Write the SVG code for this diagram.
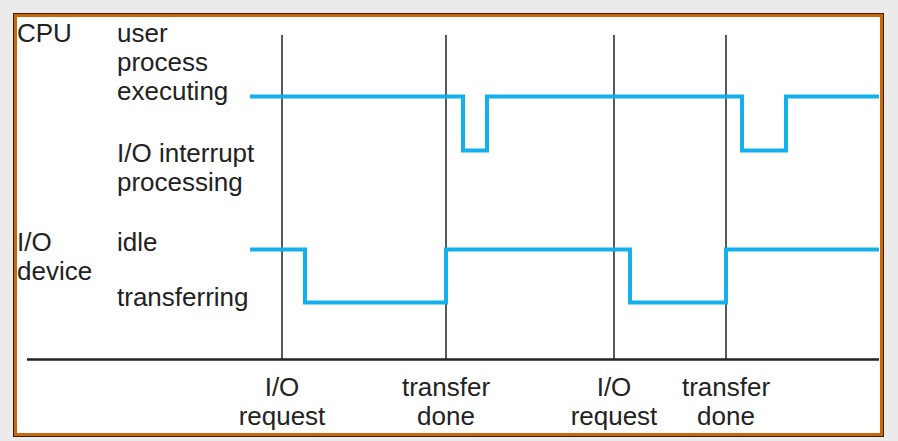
<svg xmlns="http://www.w3.org/2000/svg" width="898" height="441" viewBox="0 0 898 441">
<style>
text{font-family:"Liberation Sans",Arial,sans-serif;font-size:26px;fill:#222}
.mid{text-anchor:middle}
.tick{stroke:#222;stroke-width:1.5;fill:none}
.sig{stroke:#12b0ec;stroke-width:4;fill:none;stroke-linejoin:miter}
</style>
<rect x="0" y="0" width="898" height="441" fill="#ebebeb"/>
<g id="frame">
<rect x="13.5" y="13.5" width="870" height="423" fill="#fff" stroke="#3a1e00" stroke-width="1"/>
<rect x="15.5" y="15.5" width="866" height="419" fill="none" stroke="#c8680c" stroke-width="3"/>
</g>
<g id="labels">
<text x="17" y="42">CPU</text>
<text x="117" y="42">user</text>
<text x="117" y="71">process</text>
<text x="117" y="100">executing</text>
<text x="117" y="162">I/O interrupt</text>
<text x="117" y="191">processing</text>
<text x="17" y="251">I/O</text>
<text x="17" y="280">device</text>
<text x="117" y="251">idle</text>
<text x="117" y="306">transferring</text>
</g>
<g id="axis-labels">
<text class="mid" x="282" y="396">I/O</text>
<text class="mid" x="282" y="425">request</text>
<text class="mid" x="446" y="396">transfer</text>
<text class="mid" x="446" y="425">done</text>
<text class="mid" x="614" y="396">I/O</text>
<text class="mid" x="614" y="425">request</text>
<text class="mid" x="726" y="396">transfer</text>
<text class="mid" x="726" y="425">done</text>
</g>
<g id="connectors">
<line class="tick" x1="282" y1="35" x2="282" y2="359"/>
<line class="tick" x1="446" y1="35" x2="446" y2="359"/>
<line class="tick" x1="614" y1="35" x2="614" y2="359"/>
<line class="tick" x1="726" y1="35" x2="726" y2="359"/>
<line x1="27" y1="359.5" x2="879" y2="359.5" stroke="#222" stroke-width="2.5"/>
<path id="cpu-signal" class="sig" d="M250,96.5 H463 V150.5 H487 V96.5 H742 V150.5 H786 V96.5 H879"/>
<path id="io-signal" class="sig" d="M250,249.5 H305 V302.5 H446 V249.5 H630 V302.5 H726 V249.5 H879"/>
</g>
</svg>
